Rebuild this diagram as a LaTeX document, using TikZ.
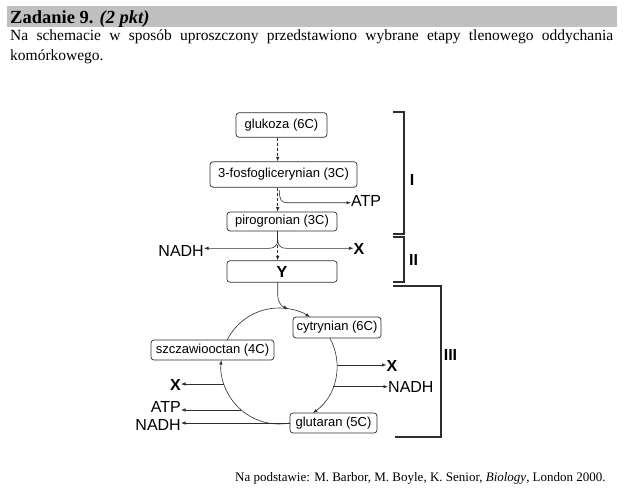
\documentclass[tikz,border=0pt]{standalone}
\usepackage{fontspec}
\setmainfont{Liberation Serif}
\setsansfont{Liberation Sans}
\usetikzlibrary{arrows.meta,positioning,calc}
\definecolor{band}{RGB}{192,192,192}
\definecolor{ink}{RGB}{45,45,45}
\tikzset{
box/.style = {draw=ink, fill=white, rounded corners=3pt, line width=0.7pt, inner sep=0pt, font=\sffamily\fontsize{13}{13}\selectfont},
tmp/.style = {coordinate},
lbl/.style = {inner sep=0pt, font=\sffamily\fontsize{16}{16}\selectfont},
blbl/.style = {inner sep=0pt, font=\sffamily\bfseries\fontsize{16}{16}\selectfont},
flow/.style = {->, draw=ink, line width=0.6pt},
brace/.style = {draw=ink, line width=1.2pt}
}

\begin{document}
\begin{tikzpicture}[>={Latex[length=4.5pt,width=3.4pt]}, x=1pt, y=-1pt]
  \useasboundingbox (0,0) rectangle (626,500);
  \fill[band] (7,6) rectangle (617,27.5);
  \node[anchor=base west, inner sep=0pt, font=\bfseries\fontsize{18.5}{18.5}\selectfont] (title) at (10,24) {Zadanie 9. \textit{(2 pkt)}};
  \node[anchor=north west, inner sep=0pt, text width=603pt, align=justify, font=\fontsize{15.5}{19.7}\selectfont] (intro) at (10,30)
    {Na schemacie w sposób uproszczony przedstawiono wybrane etapy tlenowego oddychania\linebreak komórkowego.};

  \node[box, minimum width=91pt, minimum height=24.5pt]  (glukoza) at (281.5,125)   {glukoza (6C)};
  \node[box, minimum width=147pt, minimum height=25.5pt] (fosfo)   at (283.5,174.5) {3-fosfoglicerynian (3C)};
  \node[box, minimum width=110pt, minimum height=19pt]   (piro)    at (282,221.5)   {pirogronian (3C)};
  \node[box, minimum width=110pt, minimum height=21.5pt, font=\sffamily\bfseries\fontsize{16}{16}\selectfont] (y) at (282,271.5) {Y};
  \node[box, minimum width=88pt, minimum height=21pt]    (cytr)    at (337,327.5)   {cytrynian (6C)};
  \node[box, minimum width=123pt, minimum height=20pt]   (szcz)    at (212.5,350)   {szczawiooctan (4C)};
  \node[box, minimum width=87pt, minimum height=20pt]    (glut)    at (333.5,423)   {glutaran (5C)};

  \node[lbl, anchor=west]  (atpa)  at (351,201)   {ATP};
  \node[lbl, anchor=east]  (nadha) at (204,250.5) {NADH};
  \node[blbl, anchor=west] (xa)    at (353.5,249) {X};
  \node[blbl, anchor=west] (xr)    at (386.5,365.5) {X};
  \node[lbl, anchor=west]  (nadhr) at (388,386.7) {NADH};
  \node[blbl, anchor=east] (xl)    at (181,384.5) {X};
  \node[lbl, anchor=east]  (atpl)  at (181,407)   {ATP};
  \node[lbl, anchor=east]  (nadhl) at (181,424.5) {NADH};

  \coordinate (ax) at (277.7,0);
  \node[tmp] (atpfork) at (279.3,190) {};
  \node[tmp] (apex)    at (277.7,240) {};
  \node[tmp] (c)       at (279,366) {};
  \node[tmp] (r1) at ($(c)+(-1:58)$) {};
  \node[tmp] (r2) at ($(c)+(20.9:58)$) {};
  \node[tmp] (l1) at ($(c)+(161.9:58)$) {};
  \node[tmp] (l2) at ($(c)+(130.7:58)$) {};

  \draw[flow, dash pattern=on 3pt off 2pt] (glukoza.south -| ax) -- (fosfo.north -| ax);
  \draw[flow, dash pattern=on 3pt off 2pt] (fosfo.south -| ax) -- (piro.north -| ax);
  \draw[flow] (atpfork) .. controls (279.3,199) and (281,202.7) .. (287,202.7) -- (atpa.west |- 0,202.7);
  \draw[draw=ink, line width=0.6pt] (piro.south -| ax) -- (apex);
  \draw[flow] (apex) .. controls (277.7,246) and (274,248.3) .. (269,248.3) -- (nadha.east |- 0,248.3);
  \draw[flow] (apex) .. controls (277.7,246) and (281.4,248.3) .. (286.4,248.3) -- (xa.west |- 0,248.3);
  \draw[flow, dash pattern=on 3pt off 2pt] (apex) -- (y.north -| ax);
  \draw[flow] (y.south -| ax) -- (277.7,294) .. controls (277.7,303) and (282,306.5) .. ($(c)+(279.1:58)$);

  \draw[flow] ($(c)+(206.7:58)$) arc[start angle=206.7, end angle=302.3, radius=58];
  \draw[flow] ($(c)+(331.1:58)$) arc[start angle=331.1, end angle=414.1, radius=58];
  \draw[flow] ($(c)+(79.1:58)$) arc[start angle=79.1, end angle=185.9, radius=58];

  \draw[flow] (r1) -- (r1 -| xr.west);
  \draw[flow] (r2) -- (r2 -| nadhr.west);
  \draw[flow] (l1) -- (l1 -| xl.east);
  \draw[flow] (l2) -- (l2 -| atpl.east);
  \draw[flow] (glut.west) -- (glut.west -| nadhl.east);

  \draw[brace] (393,112) -- (404,112) -- (404,234) -- (393,234);
  \draw[brace] (393,237) -- (404,237) -- (404,282) -- (393,282);
  \draw[brace] (393,286) -- (441,286) -- (441,437) -- (395,437);
  \node[blbl] (s1) at (412,180) {I};
  \node[blbl] (s2) at (413.5,260) {II};
  \node[blbl] (s3) at (450.5,355) {III};

  \node[anchor=base west, inner sep=0pt, font=\fontsize{13}{13}\selectfont] (src) at (235,481.5)
    {Na podstawie: M. Barbor, M. Boyle, K. Senior, \textit{Biology}, London 2000.};
\end{tikzpicture}
\end{document}
